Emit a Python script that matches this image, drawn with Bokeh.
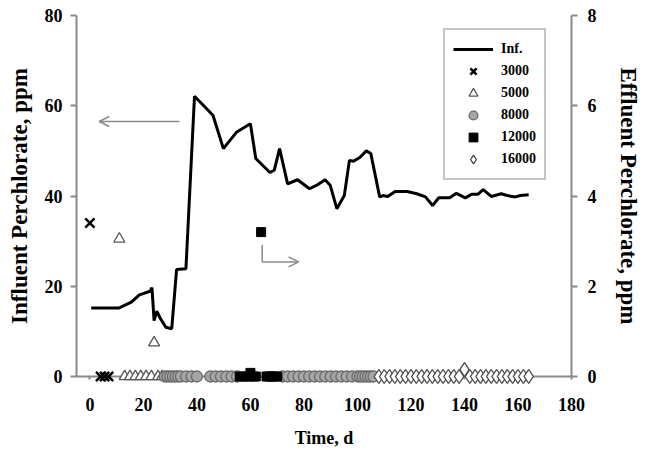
from bokeh.plotting import figure
from bokeh.models import Range1d, LinearAxis, Arrow, OpenHead, Legend, LegendItem, FixedTicker
from bokeh.embed import file_html
from bokeh.resources import INLINE

# Influent perchlorate (left axis, ppm)
inf_day = [0.5, 11, 15.5, 18.5, 22.5, 23.2, 24, 25, 26.4, 28.4, 30.6, 32.4, 35.9, 39.1,
           46, 49.9, 54.9, 60, 62, 67.3, 68.9, 70.9, 73.9, 77.6, 82.1, 84.8, 87.9, 89.8,
           92.3, 95.1, 97, 98.5, 101, 103.3, 105, 108.3, 109.5, 111.3, 114.1, 118.5, 122.2,
           125.4, 128.1, 130.4, 134.5, 137, 140.3, 142.8, 145.1, 147, 150, 153.7, 156,
           159, 160.9, 164]
inf_ppm = [15.2, 15.2, 16.5, 18.1, 18.9, 19.7, 12.4, 14.5, 12.8, 10.9, 10.6, 23.7, 23.9, 62.1,
           57.9, 50.5, 54.2, 56.0, 48.3, 45.2, 45.7, 50.5, 42.7, 43.6, 41.6, 42.4, 43.6, 42.4,
           37.2, 40.1, 47.9, 47.7, 48.6, 50.0, 49.4, 39.8, 40.1, 39.9, 41.0, 41.0, 40.5,
           39.8, 37.9, 39.6, 39.6, 40.6, 39.6, 40.4, 40.4, 41.4, 39.9, 40.5, 40.1,
           39.8, 40.1, 40.3]

# Effluent perchlorate (right axis, ppm) per series
d3000 = [0, 4, 5.5, 7]
e3000 = [3.4, 0, 0, 0]
d5000 = [11, 13, 15, 17, 19, 21, 23, 24, 25.5, 27]
e5000 = [3.05, 0, 0, 0, 0, 0, 0, 0.75, 0, 0]
d8000 = [28, 29, 30, 31, 32, 33, 34, 36, 38, 40, 45, 47, 49, 51, 53, 55,
         72, 74, 76, 78, 80, 82, 84, 86, 88, 90, 92, 94, 96, 98,
         100, 101, 102, 103, 104, 105, 106]
e8000 = [0] * len(d8000)
d12000 = [56, 57.5, 59, 60, 61, 62, 64, 66, 67, 68, 69, 70]
e12000 = [0, 0, 0, 0.08, 0, 0, 3.2, 0, 0, 0, 0, 0]
d16000 = [108, 110, 112, 114, 116, 118, 120, 122, 124, 126, 128, 130, 132, 134, 136,
          138, 140, 142, 144, 146, 148, 150, 152, 154, 156, 158, 160, 162, 164]
e16000 = [0] * len(d16000)
e16000[16] = 0.15

x_ticks = [0, 20, 40, 60, 80, 100, 120, 140, 160, 180]
y_ticks = [0, 20, 40, 60, 80]
y2_ticks = [0, 2, 4, 6, 8]

FONT = "Liberation Serif"
AX = "#8a8a8a"

p = figure(width=646, height=450, output_backend="svg", toolbar_location=None,
           x_range=Range1d(-5, 180), y_range=Range1d(0, 80),
           min_border_left=76, min_border_right=75, min_border_top=15, min_border_bottom=74)
p.outline_line_color = None
p.grid.visible = False
p.background_fill_color = "white"
p.border_fill_color = "white"

p.extra_y_ranges = {"eff": Range1d(0, 8)}
ax2 = LinearAxis(y_range_name="eff")
p.add_layout(ax2, "right")

p.xaxis.ticker = FixedTicker(ticks=x_ticks)
p.yaxis[0].ticker = FixedTicker(ticks=y_ticks)
ax2.ticker = FixedTicker(ticks=y2_ticks)

p.xaxis.axis_label = "Time, d"
p.yaxis[0].axis_label = "Influent Perchlorate, ppm"
ax2.axis_label = "Effluent Perchlorate, ppm"

for ax in [p.xaxis[0], p.yaxis[0], ax2]:
    ax.axis_line_color = AX
    ax.axis_line_width = 2
    ax.major_tick_line_color = AX
    ax.major_tick_line_width = 2
    ax.major_tick_out = 6
    ax.major_tick_in = 0
    ax.minor_tick_line_color = None
    ax.major_label_text_font = FONT
    ax.major_label_text_font_style = "bold"
    ax.major_label_text_font_size = "18px"
    ax.major_label_text_color = "black"
    ax.axis_label_text_font = FONT
    ax.axis_label_text_font_style = "bold"
    ax.axis_label_text_color = "black"

p.xaxis.major_tick_out = 3
p.xaxis.major_label_standoff = 18
p.xaxis.axis_label_standoff = 14
p.xaxis.axis_label_text_font_size = "18px"
p.yaxis[0].major_label_standoff = 8
p.yaxis[0].axis_label_standoff = 10
p.yaxis[0].axis_label_text_font_size = "23px"
ax2.major_label_standoff = 10
ax2.axis_label_standoff = 16
ax2.axis_label_text_font_size = "23px"

r_line = p.line(inf_day, inf_ppm, line_color="black", line_width=3)
r3000 = p.scatter(d3000, e3000, y_range_name="eff", marker="x", size=13,
                  line_color="black", line_width=2.5, level="overlay")
r5000 = p.scatter(d5000, e5000, y_range_name="eff", marker="triangle", size=11,
                  fill_color="white", line_color="#555555", line_width=1.3, level="overlay")
r8000 = p.scatter(d8000, e8000, y_range_name="eff", marker="circle", size=11,
                  fill_color="#a6a6a6", line_color="#6a6a6a", line_width=1.3, level="overlay")
r12000 = p.scatter(d12000, e12000, y_range_name="eff", marker="square", size=9,
                   fill_color="black", line_color="black", level="overlay")
r16000 = p.scatter(d16000, e16000, y_range_name="eff", marker="diamond", size=14,
                   fill_color="white", line_color="#444444", line_width=1.3, level="overlay")

# arrows
p.add_layout(Arrow(end=OpenHead(size=10, line_color=AX, line_width=1.5),
                   x_start=33.5, y_start=56.5, x_end=3.5, y_end=56.5,
                   line_color=AX, line_width=1.5))
p.segment(x0=[64.4], y0=[29.2], x1=[64.4], y1=[25.4], line_color=AX, line_width=1.5)
p.add_layout(Arrow(end=OpenHead(size=10, line_color=AX, line_width=1.5),
                   x_start=64.4, y_start=25.4, x_end=78, y_end=25.4,
                   line_color=AX, line_width=1.5))

legend = Legend(items=[
    LegendItem(label="Inf.", renderers=[r_line]),
    LegendItem(label="3000", renderers=[r3000]),
    LegendItem(label="5000", renderers=[r5000]),
    LegendItem(label="8000", renderers=[r8000]),
    LegendItem(label="12000", renderers=[r12000]),
    LegendItem(label="16000", renderers=[r16000]),
], location=(367, 196))
legend.border_line_color = AX
legend.border_line_width = 2
legend.background_fill_color = "white"
legend.label_text_font = FONT
legend.label_text_font_style = "bold"
legend.label_text_font_size = "14px"
legend.label_text_color = "black"
legend.glyph_width = 40
legend.glyph_height = 22
legend.label_height = 20
legend.spacing = 0
legend.padding = 8
legend.margin = 0
legend.label_standoff = 8
p.add_layout(legend, "center")

open("out.html", "w").write(file_html(p, INLINE))
